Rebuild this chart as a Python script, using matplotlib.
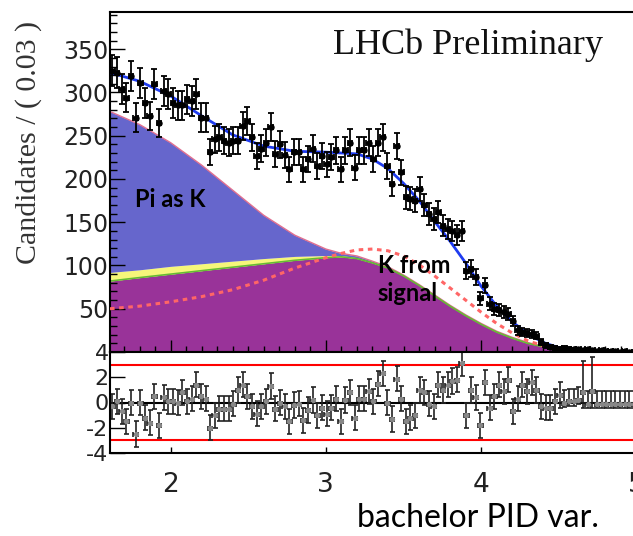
import numpy as np
import matplotlib
matplotlib.use("Agg")
import matplotlib.pyplot as plt

# bins of 0.03 starting at 1.61
bin_lo = 1.61
bin_w = 0.03
counts = [325, 323, 304, 294, 319, 271, 311, 288, 273, 310, 265, 302, 298, 288, 285, 285,
          292, 290, 298, 271, 271, 231, 246, 248, 244, 242, 244, 244, 261, 267, 248, 227,
          235, 242, 260, 229, 240, 228, 211, 231, 231, 211, 223, 235, 215, 227, 217, 225,
          233, 211, 233, 242, 213, 233, 233, 242, 223, 242, 248, 215, 194, 238, 208, 179,
          177, 175, 188, 170, 160, 154, 162, 146, 142, 140, 135, 140, 94, 96, 87, 62,
          77, 56, 50, 48, 46, 44, 36, 25, 23, 22, 21, 19, 12, 8, 6, 5,
          4, 5, 4, 3, 3, 2, 3, 2, 1, 2, 1, 1, 1, 0, 1, 0, 0]

pulls = [-0.3, 0.1, -0.7, -1.5, 0.0, -2.5, 0.0, -1.2, -1.6, 0.5, -1.8, 0.4, 0.1, 0.1, 0.0, 0.8,
         0.1, 0.3, 1.4, 0.5, 0.3, -2.0, -1.0, -0.5, -0.5, -0.5, -0.1, 1.0, 1.4, 0.5, -0.3, -0.9,
         -0.3, 0.1, 1.3, -0.5, 0.0, -0.3, -1.5, -0.2, -0.1, -1.4, -0.6, 0.2, -1.0, -0.4, -0.9, -0.4,
         0.3, -1.5, 0.2, 0.8, -1.2, 0.3, 0.3, 0.9, 0.1, 1.5, 2.3, 0.0, -1.3, 1.9, 0.3, -1.5,
         -1.2, -1.0, 1.0, 0.8, -0.1, -0.3, 1.4, 1.0, 1.4, 1.7, 1.8, 3.1, -1.0, 1.0, 0.4, -1.8,
         1.6, -0.4, 0.5, 1.4, 0.9, 1.8, -0.7, 0.3, 1.4, 0.9, 1.6, 1.0, -0.3, -0.4, -0.4, 0.1,
         0.6, 0.0, 0.1, 0.1, 0.2, 0.8, -0.1, 0.9, -0.1, -0.1, -0.1, -0.1, -0.1, -0.1, -0.1, -0.1, -0.1]
pull_lo = [1.0] * 97 + [0.35, 0.35, 0.35, 0.35, 1.2, 0.35, 1.3, 0.35, 0.35, 0.35, 0.35, 0.35, 0.35, 0.35, 0.35, 0.35]
pull_hi = [1.0] * 97 + [1.0, 1.0, 1.0, 1.0, 2.5, 1.0, 2.7, 1.0, 1.0, 1.0, 1.0, 1.0, 1.0, 1.0, 1.0, 1.0]

# fit components
comp_x = [1.61, 1.8, 2.0, 2.2, 2.4, 2.6, 2.8, 3.0, 3.1, 3.2, 3.3, 3.4, 3.5, 3.6, 3.7, 3.8,
          3.9, 4.0, 4.1, 4.2, 4.3, 4.4, 4.5, 4.6, 4.8, 5.0, 5.2]
k_signal = [82, 86, 90, 94, 98, 102, 106, 109, 110, 108, 103, 97, 88, 77, 65, 53,
            42, 32, 23, 16, 10, 6, 3, 1.5, 0.4, 0.1, 0]
yellow_top = [92, 95, 99, 102, 105, 108, 110.5, 111.5, 111.5, 109, 103.5, 97, 88, 77, 65, 53,
              42, 32, 23, 16, 10, 6, 3, 1.5, 0.4, 0.1, 0]
pi_as_k_top = [278, 263, 242, 216, 187, 158, 135, 119, 114, 111, 105, 98.5, 89, 78, 66, 54,
               43, 33, 24, 17, 11, 6.5, 3.3, 1.7, 0.5, 0.1, 0]
sig_dashed = [50, 53, 58, 64, 72, 83, 97, 109, 114, 118, 119, 117, 111, 101, 88, 74,
              60, 46, 33, 22, 13, 7, 3, 1.2, 0.3, 0.1, 0]
total_fit = [323, 313, 296, 273, 251, 238, 232, 231, 230, 229, 223, 212, 195, 175, 151, 128,
             103, 76, 53, 35, 21, 11, 5, 2, 0.6, 0.2, 0.1]

counts = np.array(counts, dtype=float)
centers = bin_lo + bin_w * (np.arange(len(counts)) + 0.5)
err_lo = np.sqrt(counts)
err_hi = np.where(counts > 0, np.sqrt(counts), 1.15)

fig = plt.figure(figsize=(6.33, 5.36), dpi=100)
W, H = 633.0, 536.0
# axes run past the right edge like the cropped original
ax = fig.add_axes([110 / W, 1 - 352 / H, 557.5 / W, 340 / H])
axp = fig.add_axes([110 / W, 1 - 453 / H, 557.5 / W, 101 / H])

ax.fill_between(comp_x, 0, k_signal, color="#993399", lw=0, zorder=1)
ax.fill_between(comp_x, k_signal, yellow_top, color="#f6f67a", lw=0, zorder=1)
ax.fill_between(comp_x, yellow_top, pi_as_k_top, color="#6666cc", lw=0, zorder=1)
ax.plot(comp_x, pi_as_k_top, color="#e07090", lw=1, zorder=2)
ax.plot(comp_x, k_signal, color="#66bb33", lw=1.2, zorder=2)
ax.plot(comp_x, sig_dashed, color="#ff6666", lw=2.2, dashes=(1.5, 1.5), zorder=3)
ax.plot(comp_x, total_fit, color="#1f3cf0", lw=2, zorder=3)

ax.errorbar(centers, counts, yerr=[err_lo, err_hi], xerr=bin_w / 2, fmt="o", ms=3.6,
            color="k", ecolor="k", elinewidth=1.3, capsize=2.0, capthick=1.3, zorder=4)

ax.set_xlim(1.61, 5.2)
ax.set_ylim(0, 393)
ax.set_xticks([2, 3, 4, 5])
ax.set_xticks(np.arange(1.7, 5.2, 0.1), minor=True)
ax.set_yticks(np.arange(50, 351, 50))
ax.set_yticks(np.arange(10, 391, 10), minor=True)
ax.tick_params(axis="both", which="both", direction="in", top=False, right=False)
ax.tick_params(axis="x", which="major", length=9, width=1, labelbottom=False)
ax.tick_params(axis="x", which="minor", length=4, width=1)
ax.tick_params(axis="y", which="major", length=11, width=1, labelsize=17, pad=1, labelcolor="#222222")
ax.tick_params(axis="y", which="minor", length=5, width=1)
for s in ax.spines.values():
    s.set_linewidth(1.5)
ax.set_ylabel("Candidates / ( 0.03 )", family="Liberation Serif", fontsize=21.5, color="#333333")
ax.yaxis.set_label_coords(-0.122, 0.615)

ax.text(0.739, 0.916, "LHCb Preliminary", transform=fig.transFigure, ha="center", va="center",
        family="Liberation Serif", fontsize=26, color="#111111")
ax.text(0.213, 0.627, "Pi as K", transform=fig.transFigure, ha="left", va="center",
        family="Lato", fontweight="bold", fontsize=17)
ax.text(0.597, 0.478, "K from\nsignal", transform=fig.transFigure, ha="left", va="center",
        family="Lato", fontweight="bold", fontsize=17, linespacing=1.25)

# pull panel
axp.axhline(0, color="k", lw=1.5, zorder=1)
axp.axhline(3, color="red", lw=1.5, zorder=1)
axp.axhline(-3, color="red", lw=1.5, zorder=1)
axp.errorbar(centers, pulls, yerr=[pull_lo, pull_hi], xerr=bin_w / 2, fmt="o", ms=2.8,
             mfc="#888888", mec="#888888", ecolor="#222222", elinewidth=1.2, capsize=1.8,
             capthick=1.2, zorder=2)
axp.set_xlim(1.61, 5.2)
axp.set_ylim(-4, 4)
axp.set_yticks([-4, -2, 0, 2, 4])
axp.set_yticklabels(["-4", "-2", "0", "2", "4"])
axp.set_xticks([2, 3, 4, 5])
axp.tick_params(axis="both", direction="in", top=False, right=False)
axp.tick_params(axis="y", length=11, width=1, labelsize=16, pad=1, labelcolor="#222222")
axp.tick_params(axis="x", length=4, width=1, labelsize=19, pad=14, labelcolor="#222222")
for s in axp.spines.values():
    s.set_linewidth(1.5)

fig.text(0.755, 0.034, "bachelor PID var.", ha="center", va="center", family="Lato", fontsize=23)

plt.savefig("out.png", dpi=100)
plt.close()
